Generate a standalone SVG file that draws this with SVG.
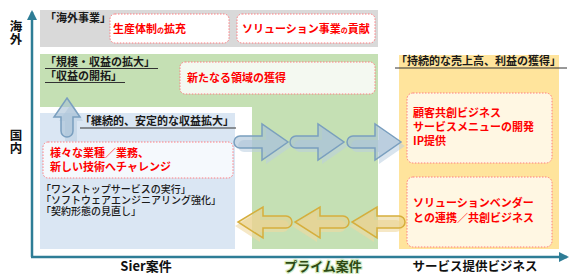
<svg xmlns="http://www.w3.org/2000/svg" width="573" height="274" viewBox="0 0 573 274">
<defs>
<style>
text{font-family:"Noto Sans CJK JP","Noto Sans",sans-serif;font-weight:bold;}
.lbl{font-size:11px;fill:#1a1a1a;}
.red{font-size:11px;fill:#ff0000;}
.lst{font-size:10px;fill:#1a1a1a;font-weight:500;}
.ax{font-size:12.5px;fill:#111;writing-mode:vertical-rl;}
.box{stroke:#ff7c80;stroke-width:1;stroke-dasharray:1.5 1.5;}
.ul{stroke:#333;stroke-width:1;}
.barr{fill:#a7c0d6;fill-opacity:0.6;stroke:#7a9fbf;stroke-width:1.5;}
.bsh{fill:#b9cde0;fill-opacity:0.55;}
.garr{fill:#e8cf8a;fill-opacity:0.55;stroke:#d6ae3c;stroke-width:1.5;}
.gsh{fill:#f0d9a0;fill-opacity:0.6;}
</style>
<marker id="ah" viewBox="0 0 10 10" refX="8" refY="5" markerWidth="4" markerHeight="4" orient="auto">
<path d="M0,0 L10,5 L0,10 z" fill="#2e7d96"/>
</marker>
</defs>
<rect width="573" height="274" fill="#ffffff"/>

<g id="regions">
<rect x="40" y="10" width="338" height="37" fill="#d9d9d9"/>
<path d="M40,54 H378 V249 H252 V107 H40 Z" fill="#c5e0b4"/>
<rect x="40" y="113" width="195" height="136" fill="#dae6f3"/>
<rect x="399" y="55" width="160" height="194" fill="#ffe49c"/>
</g>

<g id="axis-labels">
<text class="ax" x="16" y="20">海外</text>
<text class="ax" x="16" y="129">国内</text>
<text x="146" y="271" text-anchor="middle" style="font-size:13px;fill:#111">Sier案件</text>
<text x="323" y="271" text-anchor="middle" style="font-size:13px;fill:#2d4a12;stroke:#d4ecc4;stroke-width:2.5;paint-order:stroke;stroke-linejoin:round">プライム案件</text>
<text x="475" y="271" text-anchor="middle" style="font-size:12.5px;fill:#111">サービス提供ビジネス</text>
</g>

<g id="overseas">
<text class="lbl" x="45" y="22">「海外事業」</text>
</g>
<g id="production">
<rect class="box" x="110" y="14" width="119" height="29" rx="5" fill="#ffffff"/>
<text class="red" x="113" y="33">生産体制<tspan style="font-size:7px">の</tspan>拡充</text>
</g>
<g id="solution-contrib">
<rect class="box" x="237" y="14" width="138" height="29" rx="5" fill="#ffffff"/>
<text class="red" x="242" y="33">ソリューション事業<tspan style="font-size:7px">の</tspan>貢献</text>
</g>

<g id="scale">
<text class="lbl"><tspan x="45" y="66">「規模・収益の拡大」</tspan><tspan x="45" y="80">「収益の開拓」</tspan></text>
<line class="ul" x1="45" y1="68.5" x2="158" y2="68.5"/>
<line class="ul" x1="45" y1="82.5" x2="125" y2="82.5"/>
</g>
<g id="new-domain">
<rect class="box" x="180" y="62" width="195" height="32" rx="5" fill="#f4f9f1"/>
<text class="red" x="187" y="82">新たなる領域の獲得</text>
</g>

<g id="stable">
<text class="lbl" x="80" y="125">「継続的、安定的な収益拡大」</text>
<line class="ul" x1="80" y1="128" x2="236" y2="128"/>
</g>
<g id="challenge">
<rect class="box" x="43" y="142" width="190" height="36" rx="5" fill="#f5f9fd"/>
<text class="red"><tspan x="50" y="157">様々な業種／業務、</tspan><tspan x="50" y="171">新しい技術へチャレンジ</tspan></text>
</g>
<g id="sier-list">
<text class="lst"><tspan x="41" y="193">「ワンストップサービスの実行」</tspan><tspan x="41" y="204">「ソフトウェアエンジニアリング強化」</tspan><tspan x="41" y="215">「契約形態の見直し」</tspan></text>
</g>

<g id="sustained">
<text class="lbl" x="396" y="65">「持続的な売上高、利益の獲得」</text>
<line class="ul" x1="395" y1="68" x2="567" y2="68"/>
</g>
<g id="cocreation">
<rect class="box" x="407" y="93" width="145" height="70" rx="6" fill="#fff7e3"/>
<text class="red"><tspan x="413" y="117">顧客共創ビジネス</tspan><tspan x="413" y="131">サービスメニューの開発</tspan><tspan x="413" y="145">IP提供</tspan></text>
</g>
<g id="vendor">
<rect class="box" x="407" y="177" width="145" height="70" rx="6" fill="#fff7e3"/>
<text class="red"><tspan x="413" y="207">ソリューションベンダー</tspan><tspan x="413" y="222">との連携／共創ビジネス</tspan></text>
</g>

<g id="connectors">
<line x1="32" y1="257" x2="32" y2="12" stroke="#2e7d96" stroke-width="2.5" marker-end="url(#ah)"/>
<line x1="31" y1="257" x2="567" y2="257" stroke="#2e7d96" stroke-width="2.5" marker-end="url(#ah)"/>

<path class="bsh" d="M72,103 L83,121 H77 V141 H65 V121 H59 Z"/>
<path class="barr" d="M67,98 L80,117 H73 V131 A6,6 0 0 1 61,131 V117 H54 Z"/>

<g transform="translate(4,4)">
<path class="bsh" d="M240,136 H262 V124 L288,142 L262,160 V148 H240 A6,6 0 0 1 240,136 Z"/>
<path class="bsh" d="M296,136 H318 V124 L344,142 L318,160 V148 H296 A6,6 0 0 1 296,136 Z"/>
<path class="bsh" d="M353,136 H375 V124 L401,142 L375,160 V148 H353 A6,6 0 0 1 353,136 Z"/>
</g>
<path class="barr" d="M240,136 H262 V124 L288,142 L262,160 V148 H240 A6,6 0 0 1 240,136 Z"/>
<path class="barr" d="M296,136 H318 V124 L344,142 L318,160 V148 H296 A6,6 0 0 1 296,136 Z"/>
<path class="barr" d="M353,136 H375 V124 L401,142 L375,160 V148 H353 A6,6 0 0 1 353,136 Z"/>

<g transform="translate(-3,4)">
<path class="gsh" d="M286,216 H263 V207 L238,222 L263,238 V228 H286 A6,6 0 0 0 286,216 Z"/>
<path class="gsh" d="M343,216 H320 V207 L295,222 L320,238 V228 H343 A6,6 0 0 0 343,216 Z"/>
<path class="gsh" d="M399,216 H377 V207 L352,222 L377,238 V228 H399 A6,6 0 0 0 399,216 Z"/>
</g>
<path class="garr" d="M286,216 H263 V207 L238,222 L263,238 V228 H286 A6,6 0 0 0 286,216 Z"/>
<path class="garr" d="M343,216 H320 V207 L295,222 L320,238 V228 H343 A6,6 0 0 0 343,216 Z"/>
<path class="garr" d="M399,216 H377 V207 L352,222 L377,238 V228 H399 A6,6 0 0 0 399,216 Z"/>
</g>
</svg>
